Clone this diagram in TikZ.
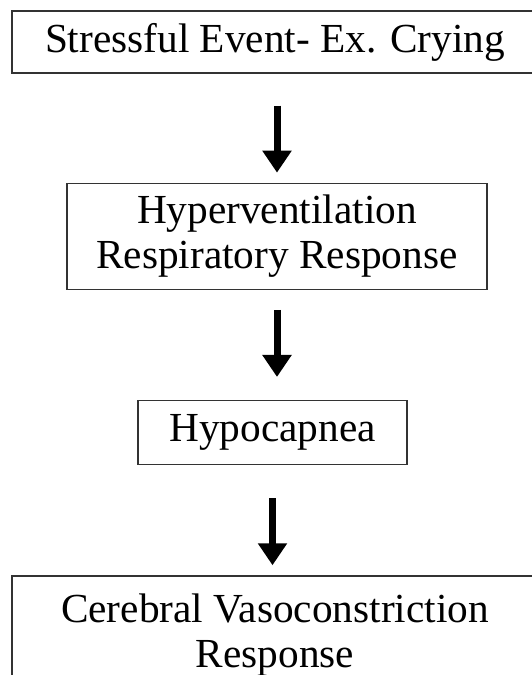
\documentclass[tikz,border=0pt]{standalone}
\usepackage{fontspec}
\setmainfont{Liberation Serif}
\usetikzlibrary{positioning,arrows.meta}

\tikzset{
	stage/.style={draw=black!80, line width=1.3pt, inner sep=0pt, align=center,
		font=\fontsize{41.3}{45}\selectfont},
	flow/.style={line width=7pt, -{Triangle[width=28pt,length=22pt]}}
}

\begin{document}
\begin{tikzpicture}
		\useasboundingbox (0,0) rectangle (532pt,-675pt);
		
		\node[stage, minimum width=526pt, minimum height=62pt] (event) at (275pt,-42pt) {Stressful Event- Ex. Crying};
		\node[stage, minimum width=420pt, minimum height=106pt, below=109pt of event, xshift=2pt] (hyper) {Hyperventilation\\Respiratory Response};
		\node[stage, minimum width=269pt, minimum height=64pt, below=110pt of hyper, xshift=-4.5pt] (hypo) {Hypocapnea};
		\node[stage, minimum width=526pt, minimum height=118pt, below=110pt of hypo, xshift=2.5pt] (cereb) {Cerebral Vasoconstriction\\Response};
		
		\draw[flow, shorten <=32pt, shorten >=10pt] (event.south -| hyper.north) -- (hyper.north);
		\draw[flow, shorten <=20pt, shorten >=23pt] (hyper.south) -- (hyper.south |- hypo.north);
		\draw[flow, shorten <=33pt, shorten >=10pt] (hypo.south) -- (hypo.south |- cereb.north);
		%\draw[flow] (hypo) -- (cereb);
	\end{tikzpicture}
\end{document}
